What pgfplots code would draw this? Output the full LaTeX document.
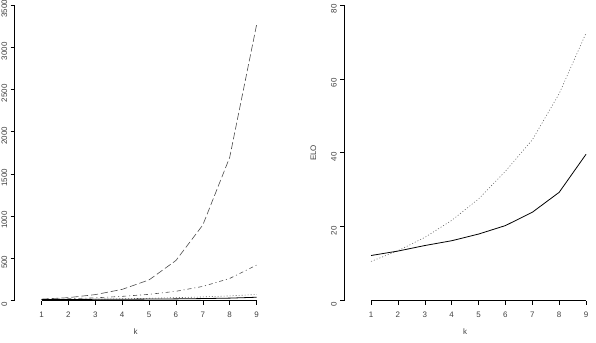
\documentclass[border=0pt]{standalone}
\usepackage{pgfplots}
\pgfplotsset{compat=1.18}
\usepackage{fontspec}
\setmainfont{Liberation Sans}
\begin{document}
\pgfplotstableread{
k solid dotted dotdash longdash
1 12.2 10.6 14 17.6
2 13.4 13.5 22 35
3 14.9 17.1 33 71
4 16.2 21.7 50 133
5 18.0 27.5 74 245
6 20.3 35.0 110 475
7 23.9 43.5 168 895
8 29.3 56.0 262 1696
9 39.6 72.4 420 3264
}\data
\pgfplotsset{
  rstyle/.style={
    scale only axis, width=243pt, height=297pt,
    anchor=south west,
    xmin=0, xmax=9, ymin=0,
    axis line style={draw=none},
    xtick={1,...,9},
    xtick pos=bottom, ytick pos=left,
    tick align=outside, major tick length=4pt,
    tick style={black, line width=0.6pt},
    /pgf/number format/assume math mode=true,
    ticklabel style={font=\fontsize{8}{9.6}\selectfont, text=black!75},
    label style={font=\fontsize{8}{9.6}\selectfont, text=black!75},
    yticklabel style={rotate=90, anchor=south, xshift=-4pt},
    xticklabel style={yshift=-4pt},
    xlabel={k},
    xlabel style={yshift=-4pt},
    clip=false,
  },
  ldash/.style={black!70, line width=0.6pt, dash pattern=on 7pt off 3pt},
  ddash/.style={black!70, line width=0.6pt, dash pattern=on 1pt off 3pt on 4pt off 3pt},
  dotl/.style={black!60, line width=0.6pt, dash pattern=on 1pt off 2pt},
  soll/.style={black, line width=0.8pt},
}
\begin{tikzpicture}
\useasboundingbox (0,0) rectangle (596pt,344pt);
\begin{axis}[rstyle, at={(12pt,42pt)}, ymax=3500, ytick={0,500,...,3500},
  scaled y ticks=false, yticklabel style={/pgf/number format/fixed, /pgf/number format/1000 sep={}}]
\addplot[ldash] table[x=k,y=longdash]{\data};
\addplot[ddash] table[x=k,y=dotdash]{\data};
\addplot[dotl] table[x=k,y=dotted]{\data};
\addplot[soll] table[x=k,y=solid]{\data};
\draw[black, line width=0.6pt] (axis cs:1,0) -- (axis cs:9,0);
\draw[black, line width=0.6pt] (axis cs:0,0) -- (axis cs:0,3500);
\end{axis}
\begin{axis}[rstyle, at={(343pt,42pt)}, ymax=80, ytick={0,20,...,80}, ylabel={ELO},
  ylabel style={yshift=8pt}]
\addplot[dotl] table[x=k,y=dotted]{\data};
\addplot[soll] table[x=k,y=solid]{\data};
\draw[black, line width=0.6pt] (axis cs:1,0) -- (axis cs:9,0);
\draw[black, line width=0.6pt] (axis cs:0,0) -- (axis cs:0,80);
\end{axis}
\end{tikzpicture}
\end{document}
